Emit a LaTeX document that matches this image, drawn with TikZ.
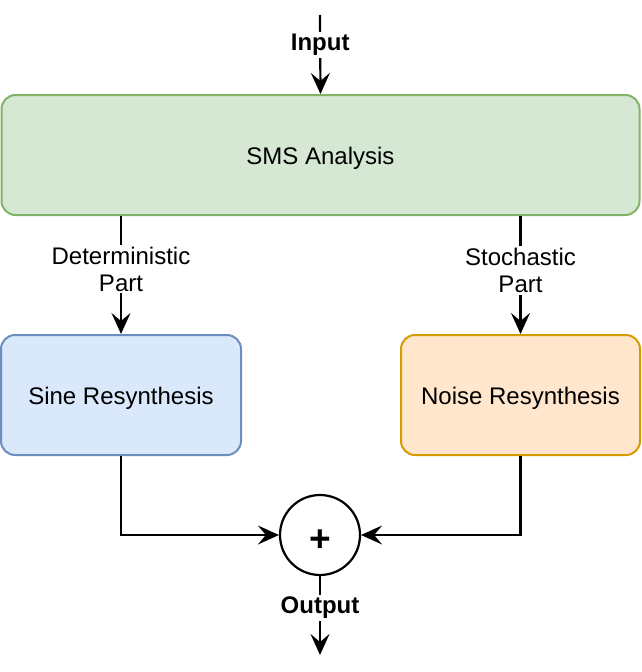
\documentclass[tikz,border=0pt]{standalone}
\usepackage{fontspec}
\setmainfont{Liberation Sans}
\usetikzlibrary{arrows.meta}
\definecolor{gfill}{HTML}{D5E8D4}
\definecolor{gdraw}{HTML}{82B366}
\definecolor{bfill}{HTML}{DAE8FC}
\definecolor{bdraw}{HTML}{6C8EBF}
\definecolor{ofill}{HTML}{FFE6CC}
\definecolor{odraw}{HTML}{D79B00}
\begin{document}
\begin{tikzpicture}[x=1pt,y=-1pt,
  font=\fontsize{24}{27}\selectfont,
  box/.style={rounded corners=14pt, line width=2pt, minimum height=120pt, inner sep=0pt, text height=19pt, text depth=0pt},
  conn/.style={line width=2.2pt, -{Stealth[length=21pt,width=19pt,inset=8pt]}},
  lbl/.style={fill=white, inner sep=2pt, align=center, text=black},
  bold/.style={font=\fontsize{24}{27}\selectfont\bfseries}]
\useasboundingbox (0,0) rectangle (642,672);
\node[box, fill=gfill, draw=gdraw, minimum width=638pt] (sms) at (320.5,155) {SMS Analysis};
\node[box, fill=bfill, draw=bdraw, minimum width=240pt] (sine) at (121,395) {Sine Resynthesis};
\node[box, fill=ofill, draw=odraw, minimum width=239pt] (noise) at (520.5,395) {Noise Resynthesis};
\node[circle, draw, line width=2.2pt, minimum size=80pt, inner sep=0pt, text height=33pt, text depth=0pt, font=\fontsize{37}{37}\selectfont\bfseries] (sum) at (320,535) {+};
\coordinate (in) at (320,15);
\coordinate (out) at (320,655);
\draw[conn] (in) -- node[lbl, bold, pos=0.34, yshift=-3pt] {Input} (sms.north);
\draw[conn] (sms.south -| sine.north) -- node[lbl, pos=0.45] {Deterministic\\Part} (sine.north);
\draw[conn] (sms.south -| noise.north) -- node[lbl, pos=0.46] {Stochastic\\Part} (noise.north);
\draw[conn] (sine.south) |- (sum.west);
\draw[conn] (noise.south) |- (sum.east);
\draw[conn] (sum.south) -- node[lbl, bold, pos=0.375, yshift=-2pt] {Output} (out);
\end{tikzpicture}
\end{document}
